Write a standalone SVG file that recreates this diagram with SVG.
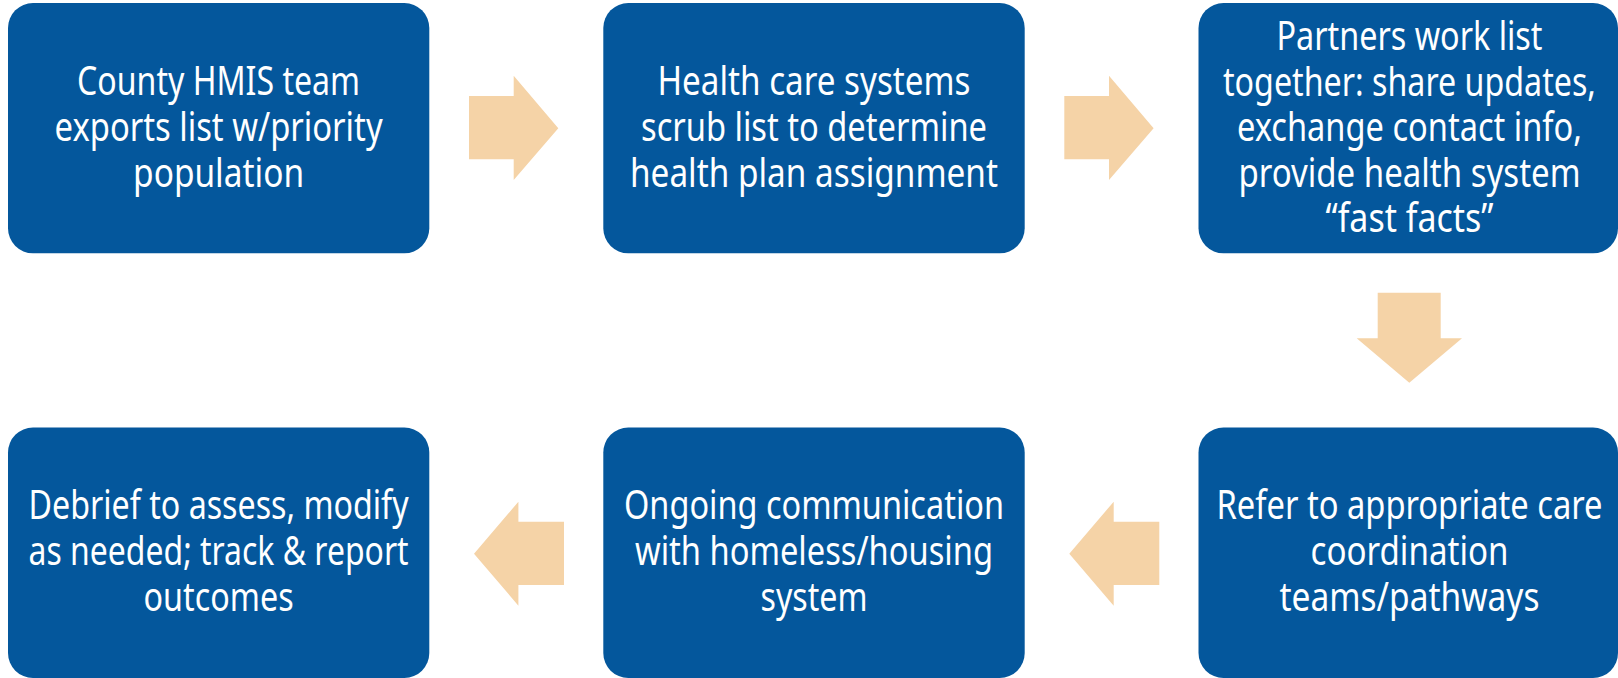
<svg xmlns="http://www.w3.org/2000/svg" width="1618" height="678" viewBox="0 0 1618 678">
  <style>
    .box { fill: #04579C; }
    .arrow { fill: #F5D3A7; }
    .label { fill: #FFFFFF; font-family: "Noto Sans", "Open Sans", "DejaVu Sans", sans-serif; font-size: 40px; text-anchor: middle; }
  </style>
  <rect width="1618" height="678" fill="#FFFFFF"/>

  <!-- connectors: block arrows between steps -->
  <g id="connectors">
    <polygon class="arrow" points="469,96 513.7,96 513.7,75.7 558.3,128.3 513.7,180 513.7,159.3 469,159.3"/>
    <polygon class="arrow" points="1064.3,96 1109,96 1109,75.7 1153.6,128.3 1109,180 1109,159.3 1064.3,159.3"/>
    <polygon class="arrow" points="1377.7,292.7 1440.7,292.7 1440.7,338.3 1462,338.3 1409.3,382.7 1356.7,338.3 1377.7,338.3"/>
    <polygon class="arrow" points="1159.3,521.7 1113.7,521.7 1113.7,501.7 1069.3,553.7 1113.7,605.7 1113.7,585 1159.3,585"/>
    <polygon class="arrow" points="564,521.7 518.4,521.7 518.4,501.7 474,553.7 518.4,605.7 518.4,585 564,585"/>
  </g>

  <!-- step 1 -->
  <g id="step1">
    <rect class="box" x="8" y="3" width="421.3" height="250.3" rx="25" ry="25"/>
    <text class="label" x="218.6" y="95" textLength="283" lengthAdjust="spacingAndGlyphs">County HMIS team</text>
    <text class="label" x="218.6" y="141" textLength="328" lengthAdjust="spacingAndGlyphs">exports list w/priority</text>
    <text class="label" x="218.6" y="187" textLength="171" lengthAdjust="spacingAndGlyphs">population</text>
  </g>

  <!-- step 2 -->
  <g id="step2">
    <rect class="box" x="603.3" y="3" width="421.4" height="250.3" rx="25" ry="25"/>
    <text class="label" x="814" y="95" textLength="313" lengthAdjust="spacingAndGlyphs">Health care systems</text>
    <text class="label" x="814" y="141" textLength="346" lengthAdjust="spacingAndGlyphs">scrub list to determine</text>
    <text class="label" x="814" y="187" textLength="368" lengthAdjust="spacingAndGlyphs">health plan assignment</text>
  </g>

  <!-- step 3 -->
  <g id="step3">
    <rect class="box" x="1198.5" y="3" width="419.5" height="250.3" rx="25" ry="25"/>
    <text class="label" x="1409.5" y="50" textLength="266" lengthAdjust="spacingAndGlyphs">Partners work list</text>
    <text class="label" x="1409.5" y="95.5" textLength="373" lengthAdjust="spacingAndGlyphs">together: share updates,</text>
    <text class="label" x="1409.5" y="141" textLength="345" lengthAdjust="spacingAndGlyphs">exchange contact info,</text>
    <text class="label" x="1409.5" y="186.5" textLength="342" lengthAdjust="spacingAndGlyphs">provide health system</text>
    <text class="label" x="1409.5" y="232" textLength="168" lengthAdjust="spacingAndGlyphs">“fast facts”</text>
  </g>

  <!-- step 4 -->
  <g id="step4">
    <rect class="box" x="1198.5" y="427.5" width="419.5" height="250.5" rx="25" ry="25"/>
    <text class="label" x="1409.5" y="518.5" textLength="386" lengthAdjust="spacingAndGlyphs">Refer to appropriate care</text>
    <text class="label" x="1409.5" y="564.5" textLength="198" lengthAdjust="spacingAndGlyphs">coordination</text>
    <text class="label" x="1409.5" y="610.5" textLength="260" lengthAdjust="spacingAndGlyphs">teams/pathways</text>
  </g>

  <!-- step 5 -->
  <g id="step5">
    <rect class="box" x="603.3" y="427.5" width="421.4" height="250.5" rx="25" ry="25"/>
    <text class="label" x="814" y="518.5" textLength="380" lengthAdjust="spacingAndGlyphs">Ongoing communication</text>
    <text class="label" x="814" y="564.5" textLength="358" lengthAdjust="spacingAndGlyphs">with homeless/housing</text>
    <text class="label" x="814" y="610.5" textLength="107" lengthAdjust="spacingAndGlyphs">system</text>
  </g>

  <!-- step 6 -->
  <g id="step6">
    <rect class="box" x="8" y="427.5" width="421.3" height="250.5" rx="25" ry="25"/>
    <text class="label" x="218.6" y="518.5" textLength="380" lengthAdjust="spacingAndGlyphs">Debrief to assess, modify</text>
    <text class="label" x="218.6" y="564.5" textLength="380" lengthAdjust="spacingAndGlyphs">as needed; track &amp; report</text>
    <text class="label" x="218.6" y="610.5" textLength="150" lengthAdjust="spacingAndGlyphs">outcomes</text>
  </g>
</svg>
